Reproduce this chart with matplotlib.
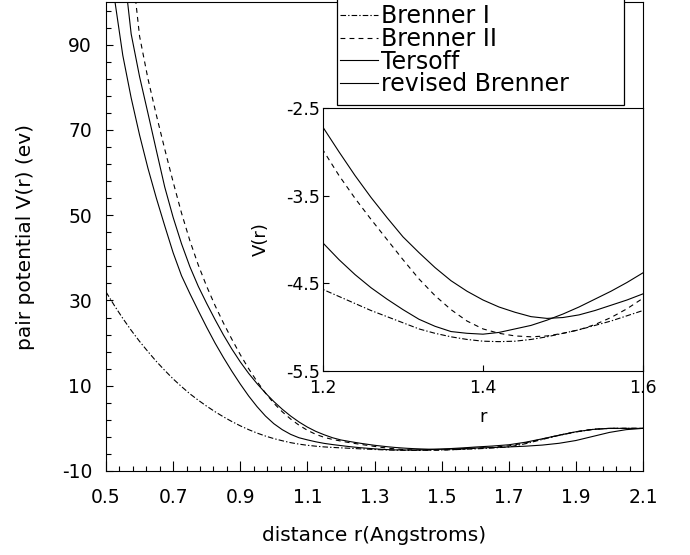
import matplotlib as mpl
mpl.use('Agg')
import matplotlib.pyplot as plt
from matplotlib.patches import Rectangle
from matplotlib.ticker import MultipleLocator, FormatStrFormatter

# bond length grid (Angstrom): repulsive wall, well region, cutoff region
r = [0.5, 0.525, 0.55, 0.575, 0.6, 0.625, 0.65, 0.675, 0.7, 0.725, 0.75, 0.775,
     0.8, 0.825, 0.85, 0.875, 0.9, 0.925, 0.95, 0.975, 1.0, 1.025, 1.05, 1.075,
     1.1, 1.125, 1.15, 1.175,
     1.2, 1.22, 1.24, 1.26, 1.28, 1.3, 1.32, 1.34, 1.36, 1.38, 1.4, 1.42, 1.44,
     1.46, 1.48, 1.5, 1.52, 1.54, 1.56, 1.58, 1.6,
     1.65, 1.7, 1.75, 1.8, 1.85, 1.9, 1.95, 2.0, 2.05, 2.1]

brenner1 = [32.0, 28.8, 25.8, 23.0, 20.4, 18.0, 15.7, 13.6, 11.6, 9.8, 8.1, 6.6,
            5.2, 3.9, 2.7, 1.6, 0.6, -0.3, -1.1, -1.8, -2.4, -2.9, -3.35, -3.7,
            -3.97, -4.18, -4.35, -4.47,
            -4.57, -4.65, -4.73, -4.81, -4.88, -4.95, -5.02, -5.07, -5.11, -5.14, -5.16,
            -5.165, -5.16, -5.14, -5.11, -5.07, -5.03, -4.98, -4.93, -4.87, -4.81,
            -4.62, -4.35, -3.6, -2.6, -1.65, -0.85, -0.25, 0.0, 0.0, 0.0]

brenner2 = [200, 165, 135, 110, 92, 82, 73.5, 65.5, 57.8, 50.5, 44.0, 38.3,
            33.3, 28.8, 24.7, 20.9, 17.3, 14.0, 11.0, 8.3, 5.9, 3.9, 2.2, 0.75,
            -0.45, -1.4, -2.1, -2.6,
            -2.98, -3.27, -3.53, -3.77, -4.0, -4.23, -4.45, -4.64, -4.8, -4.93, -5.02,
            -5.07, -5.1, -5.11, -5.1, -5.07, -5.03, -4.97, -4.89, -4.79, -4.67,
            -4.45, -4.1, -3.4, -2.5, -1.6, -0.8, -0.2, 0.0, 0.0, 0.0]

tersoff = [158, 132, 110, 92.5, 82.5, 73.9, 65.2, 56.6, 49.5, 43.3, 37.9, 33.3,
           29.3, 25.5, 21.9, 18.6, 15.6, 12.9, 10.5, 8.3, 6.3, 4.5, 2.9, 1.5,
           0.3, -0.7, -1.5, -2.2,
           -2.72, -3.0, -3.27, -3.52, -3.75, -3.97, -4.15, -4.32, -4.47, -4.59, -4.69,
           -4.77, -4.83, -4.88, -4.9, -4.89, -4.86, -4.81, -4.75, -4.69, -4.62,
           -4.5, -4.36, -4.18, -3.92, -3.5, -2.85, -1.9, -0.95, -0.3, 0.0]

rev_brenner = [118, 101, 87.5, 77.5, 68.8, 61, 54, 47.5, 41.2, 35.8, 31.6, 27.6,
               23.7, 20.0, 16.6, 13.4, 10.4, 7.6, 5.1, 2.9, 1.1, -0.3, -1.4, -2.2,
               -2.7, -3.15, -3.52, -3.8,
               -4.04, -4.23, -4.4, -4.55, -4.68, -4.8, -4.91, -4.99, -5.05, -5.07, -5.08,
               -5.06, -5.02, -4.98, -4.92, -4.85, -4.77, -4.68, -4.59, -4.49, -4.38,
               -4.15, -3.85, -3.25, -2.45, -1.6, -0.8, -0.25, 0.0, 0.0, 0.0]

labels = ['Brenner I', 'Brenner II', 'Tersoff', 'revised Brenner']
series = [brenner1, brenner2, tersoff, rev_brenner]
styles = [(0, (4, 1.5, 1, 1.5)), (0, (3.5, 3)), '-', '-']

xticks = [0.5, 0.7, 0.9, 1.1, 1.3, 1.5, 1.7, 1.9, 2.1]
inset_xticks = [1.2, 1.4, 1.6]
inset_yticks = [-5.5, -4.5, -3.5, -2.5]

plt.rcParams['axes.unicode_minus'] = False
plt.rcParams['lines.scale_dashes'] = False

W, H = 690, 555
fig = plt.figure(figsize=(6.9, 5.55), dpi=100)

# main axes
ax = fig.add_axes([106/W, 1-471/H, 537/W, 469/H])
handles = []
for y, lab, ls in zip(series, labels, styles):
	ln, = ax.plot(r, y, color='black', lw=0.8, linestyle=ls, label=lab)
	handles.append(ln)
ax.set_xlim(0.5, 2.1)
ax.set_ylim(-10, 100)
ax.set_xticks(xticks)
ax.xaxis.set_minor_locator(MultipleLocator(0.04, offset=0.02))
ax.xaxis.set_major_formatter(FormatStrFormatter('%.1f'))
ax.yaxis.set_major_locator(MultipleLocator(20, offset=10))
ax.yaxis.set_minor_locator(MultipleLocator(4, offset=2))
ax.tick_params(which='both', direction='in', top=False, right=False, labelsize=13.5, width=0.8)
ax.tick_params(axis='x', which='major', length=7, pad=12)
ax.tick_params(axis='x', which='minor', length=3.5)
ax.tick_params(axis='y', which='major', length=5, pad=10)
ax.tick_params(axis='y', which='minor', length=3.5)
for sp in ax.spines.values():
	sp.set_linewidth(0.8)
ax.set_xlabel('distance r(Angstroms)', fontsize=14.5, labelpad=14)
ax.set_ylabel('pair potential V(r) (ev)', fontsize=14.5, labelpad=19)

# inset: close-up of the well
axi = fig.add_axes([323/W, 1-371/H, 320/W, 263/H])
for y, ls in zip(series, styles):
	axi.plot(r, y, color='black', lw=0.8, linestyle=ls)
axi.set_xlim(1.2, 1.6)
axi.set_ylim(-5.5, -2.5)
axi.set_xticks(inset_xticks)
axi.set_yticks(inset_yticks)
axi.xaxis.set_major_formatter(FormatStrFormatter('%.1f'))
axi.yaxis.set_major_formatter(FormatStrFormatter('%.1f'))
axi.tick_params(direction='in', length=4.5, width=0.8, labelsize=12.5)
axi.tick_params(axis='x', pad=6)
axi.tick_params(axis='y', pad=2)
for sp in axi.spines.values():
	sp.set_linewidth(0.8)
axi.set_xlabel('r', fontsize=13, labelpad=8)
axi.set_ylabel('V(r)', fontsize=13, labelpad=12)

# legend box running off the top edge
fig.add_artist(Rectangle((337/W, 1-105/H), 287/W, 0.3, transform=fig.transFigure,
                         fc='white', ec='black', lw=0.9, zorder=3))
fig.legend(handles, labels, loc='upper left', bbox_to_anchor=(340/W, 1-4/H),
           frameon=False, fontsize=17, handlelength=1.6, handletextpad=0.15,
           labelspacing=-0.05, borderaxespad=0, borderpad=0)

plt.savefig('out.png', dpi=100)
